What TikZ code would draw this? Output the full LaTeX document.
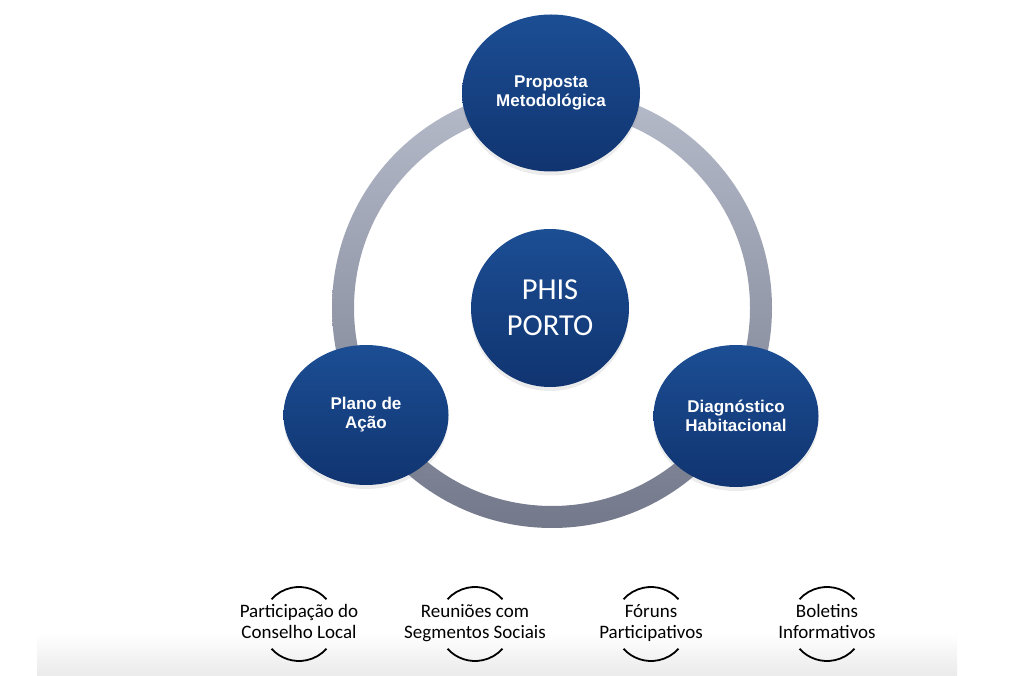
\documentclass[tikz,border=0pt]{standalone}
\usepackage{fontspec}
\setmainfont{Carlito}
\newfontfamily\arialfont{Liberation Sans}
\usetikzlibrary{shapes.geometric,shadows}
\definecolor{bluetop}{RGB}{28,78,148}
\definecolor{bluebot}{RGB}{16,52,112}
\definecolor{ringtop}{RGB}{182,187,202}
\definecolor{ringbot}{RGB}{115,121,139}
\newcommand\chanfont{\fontsize{19}{20.5}\selectfont\setlength\lineskiplimit{-20pt}}
\begin{document}
\begin{tikzpicture}[x=1pt,y=1pt,
  ph/.style={ellipse,inner sep=0pt,top color=bluetop,bottom color=bluebot,draw=none,
    drop shadow={opacity=0.15,shadow xshift=0pt,shadow yshift=-4pt},
    text=white,align=center,font=\arialfont\bfseries\fontsize{17}{19}\selectfont},
  it/.style={anchor=base,align=center,font=\chanfont},
  arc/.style={line width=1.8pt,black}]
  \useasboundingbox (0,0) rectangle (1024,675);
  % band at the bottom
  \shade[top color=white,bottom color=black!8] (37,0) rectangle (957,42);
  % ring
  \shade[top color=ringtop,bottom color=ringbot,even odd rule]
    (552,367) circle[radius=220] (552,367) circle[radius=198];
  % hub and phases
  \node[ph,minimum width=158pt,minimum height=158pt,
    font=\fontsize{30.5}{36}\selectfont] (hub) at (550,367) {PHIS\\PORTO};
  \node[ph,minimum width=178pt,minimum height=157pt] (prop) at (551,582)
    {Proposta\\Metodológica};
  \node[ph,minimum width=165pt,minimum height=142pt] (diag) at (736,259)
    {Diagnóstico\\Habitacional};
  \node[ph,minimum width=165pt,minimum height=140pt] (plano) at (366,260)
    {Plano de\\Ação};
  % participation channels
  \node[it] (cons) at (299,37) {Participação do\\Conselho Local};
  \node[it] (reun) at (475,37) {Reuniões com\\Segmentos Sociais};
  \node[it] (foru) at (651,37) {Fóruns\\Participativos};
  \node[it] (bole) at (827,37) {Boletins\\Informativos};
  \draw[arc] (cons.base) ++(0,14) ++(42:37) arc[start angle=42,end angle=138,radius=37];
  \draw[arc] (cons.base) ++(0,14) ++(222:37) arc[start angle=222,end angle=318,radius=37];
  \draw[arc] (reun.base) ++(0,14) ++(42:37) arc[start angle=42,end angle=138,radius=37];
  \draw[arc] (reun.base) ++(0,14) ++(222:37) arc[start angle=222,end angle=318,radius=37];
  \draw[arc] (foru.base) ++(0,14) ++(42:37) arc[start angle=42,end angle=138,radius=37];
  \draw[arc] (foru.base) ++(0,14) ++(222:37) arc[start angle=222,end angle=318,radius=37];
  \draw[arc] (bole.base) ++(0,14) ++(42:37) arc[start angle=42,end angle=138,radius=37];
  \draw[arc] (bole.base) ++(0,14) ++(222:37) arc[start angle=222,end angle=318,radius=37];
\end{tikzpicture}
\end{document}
